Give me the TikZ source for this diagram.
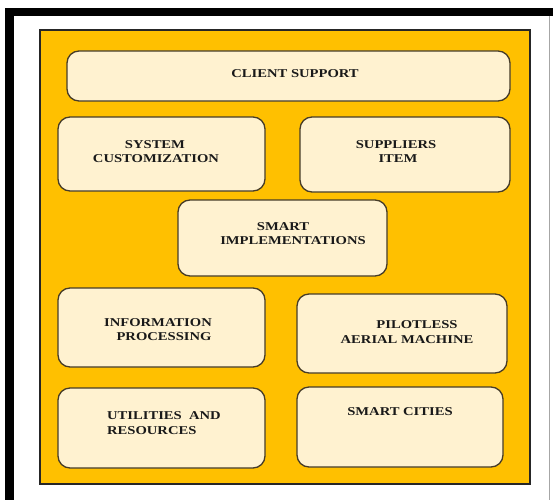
\documentclass[tikz,border=0pt]{standalone}
\usepackage{fontspec}
\setmainfont{Liberation Serif}
\definecolor{orangebg}{RGB}{255,192,0}
\definecolor{creamfill}{RGB}{255,242,208}
\definecolor{boxedge}{RGB}{70,60,40}
\newcommand{\sq}[1]{\scalebox{1}[0.82]{#1}}
\begin{document}
\begin{tikzpicture}[x=1pt,y=-1pt,
  panel/.style={draw=boxedge,line width=1.3pt,fill=creamfill,rounded corners=12pt},
  lbl/.style={inner sep=0pt,font=\fontsize{14.6}{16}\selectfont\bfseries,text=black!90},
  lbll/.style={lbl,anchor=west}]
\useasboundingbox (0,0) rectangle (553,500);
\fill[white] (0,0) rectangle (553,500);
% black frame
\fill[black] (5,8) rectangle (553,16);
\fill[black] (5,8) rectangle (14,500);
\draw[black!35,line width=0.6pt] (549,16) -- (549,500);
% orange panel
\draw[fill=orangebg,draw=black!85,line width=1.6pt] (40,30) rectangle (530,484);
% boxes
\draw[panel] (67,51) rectangle (510,101);
\draw[panel] (58,117) rectangle (265,191);
\draw[panel] (300,117) rectangle (510,192);
\draw[panel] (178,200) rectangle (387,276);
\draw[panel] (58,288) rectangle (265,367);
\draw[panel] (297,294) rectangle (507,373);
\draw[panel] (58,388) rectangle (265,468);
\draw[panel] (297,387) rectangle (503,467);
% labels
\node[lbl] (t1) at (295,74) {\sq{CLIENT SUPPORT}};
\node[lbl] (t2a) at (155,145) {\sq{SYSTEM}};
\node[lbl] (t2b) at (156,159) {\sq{CUSTOMIZATION}};
\node[lbl] (t3a) at (396,145) {\sq{SUPPLIERS}};
\node[lbl] (t3b) at (398,159) {\sq{ITEM}};
\node[lbl] (t4a) at (283,227) {\sq{SMART}};
\node[lbl] (t4b) at (293,241) {\sq{IMPLEMENTATIONS}};
\node[lbl] (t5a) at (158,323) {\sq{INFORMATION}};
\node[lbl] (t5b) at (164,337) {\sq{PROCESSING}};
\node[lbl] (t6a) at (417,325) {\sq{PILOTLESS}};
\node[lbl] (t6b) at (407,340) {\sq{AERIAL MACHINE}};
\node[lbll] (t7a) at (107,416) {\sq{UTILITIES~ AND}};
\node[lbll] (t7b) at (107,431) {\sq{RESOURCES}};
\node[lbl] (t8) at (400,412) {\sq{SMART CITIES}};
\end{tikzpicture}
\end{document}
